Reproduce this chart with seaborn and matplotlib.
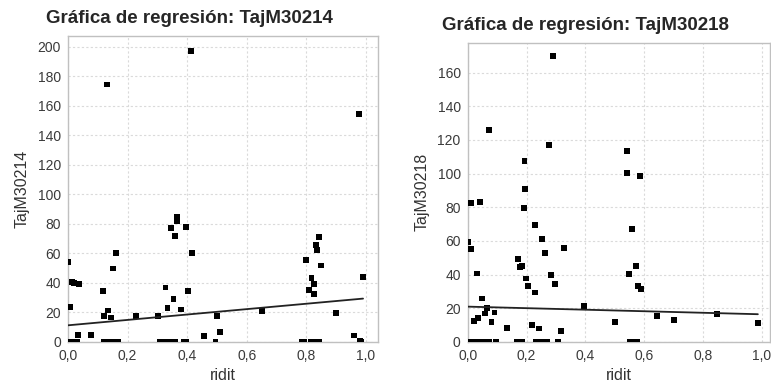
import matplotlib
matplotlib.use("Agg")
import matplotlib.pyplot as plt
import matplotlib.ticker as mticker
import seaborn as sns
import pandas as pd

# -----------------------------
# Data
# -----------------------------
left_x = [0.000, 0.007, 0.012, 0.020, 0.038, 0.033, 0.078, 0.116, 0.120, 0.135,
          0.143, 0.150, 0.161, 0.130, 0.229, 0.303, 0.327, 0.334, 0.347, 0.354,
          0.358, 0.367, 0.367, 0.378, 0.395, 0.404, 0.415, 0.413, 0.456, 0.499,
          0.510, 0.650, 0.799, 0.808, 0.817, 0.826, 0.824, 0.831, 0.836, 0.843,
          0.849, 0.899, 0.960, 0.980, 0.989, 0.977]
left_y = [54, 24, 40.5, 40, 39.5, 4.7, 4.7, 34.4, 17.6, 21.3,
          16.6, 49.8, 60.1, 174.5, 17.8, 17.8, 36.9, 23, 77.5, 29,
          71.9, 82, 85, 22, 77.7, 34.4, 60, 197, 4, 17.6,
          6.6, 21, 55.6, 35.5, 43.4, 39, 32.5, 65.6, 62.2, 71.2,
          51.8, 19.7, 4.4, 1, 44, 154.6]
left_zero_x = [0.003, 0.012, 0.021, 0.030, 0.120, 0.130, 0.150, 0.160, 0.167,
               0.310, 0.320, 0.330, 0.340, 0.350, 0.360, 0.388, 0.396, 0.495,
               0.786, 0.793, 0.816, 0.825, 0.834, 0.843, 0.984]
left_fit_x = [0.0, 0.99]
left_fit_y = [11.3, 29.4]

right_x = [0.000, 0.010, 0.010, 0.043, 0.032, 0.020, 0.035, 0.050, 0.059, 0.067,
           0.081, 0.091, 0.134, 0.171, 0.178, 0.185, 0.190, 0.198, 0.206, 0.218,
           0.229, 0.230, 0.241, 0.254, 0.262, 0.282, 0.297, 0.316, 0.326, 0.395,
           0.502, 0.547, 0.557, 0.571, 0.580, 0.590, 0.642, 0.701, 0.847, 0.986,
           0.291, 0.072, 0.275, 0.193, 0.195, 0.540, 0.542, 0.585]
right_y = [59.5, 55.5, 82.3, 83, 40.7, 12.7, 14, 25.8, 16.9, 20.1,
           11.7, 17.5, 8.2, 49.2, 44.6, 45.2, 79.5, 37.7, 33.3, 9.9,
           29.4, 69.6, 8, 61.3, 52.6, 39.9, 34.3, 6.5, 55.9, 21.4,
           12.1, 40.3, 66.9, 45.2, 33, 31.4, 15.5, 12.9, 16.5, 11.3,
           169.8, 126, 117.2, 107.3, 91, 113.6, 100.2, 98.6]
right_zero_x = [0.000, 0.010, 0.030, 0.040, 0.050, 0.060, 0.072, 0.096,
                0.169, 0.178, 0.186, 0.232, 0.242, 0.252, 0.262, 0.271,
                0.307, 0.551, 0.560, 0.569, 0.577]
right_fit_x = [0.0, 0.986]
right_fit_y = [21.0, 16.5]

sns.set_style("white")
plt.rcParams["font.family"] = ["Liberation Sans", "DejaVu Sans"]


def draw_panel(ax, xs, ys, zeros, fit_x, fit_y, name, xmax, ymax, ystep):

    pts = pd.DataFrame({
        "ridit": list(xs) + list(zeros),
        name: list(ys) + [0] * len(zeros),
    })

    sns.scatterplot(
        data=pts,
        x="ridit",
        y=name,
        marker="s",
        s=18,
        color="black",
        edgecolor="none",
        ax=ax,
        zorder=3
    )

    sns.lineplot(
        x=fit_x,
        y=fit_y,
        color="#222222",
        linewidth=1.3,
        ax=ax,
        zorder=4
    )

    ax.set_xlim(0, xmax)
    ax.set_ylim(0, ymax)
    ax.xaxis.set_major_locator(mticker.MultipleLocator(0.2))
    ax.yaxis.set_major_locator(mticker.MultipleLocator(ystep))
    ax.xaxis.set_major_formatter(
        mticker.FuncFormatter(lambda v, p: f"{v:.1f}".replace(".", ","))
    )

    ax.grid(True, color="#dadada", linestyle=(0, (2, 2)), linewidth=0.8)
    ax.set_axisbelow(True)

    for sp in ax.spines.values():
        sp.set_color("#c0c0c0")
        sp.set_linewidth(1.0)

    ax.tick_params(
        direction="out",
        length=3,
        color="#a0a0a0",
        labelsize=10,
        labelcolor="#3a3a3a",
        pad=2
    )

    ax.set_xlabel("ridit", fontsize=11.5, color="#333333", labelpad=4)
    ax.set_ylabel(name, fontsize=11.5, color="#333333", labelpad=6)


fig = plt.figure(figsize=(7.71, 3.88), dpi=100)

ax1 = fig.add_axes([0.0882, 0.1186, 0.402, 0.7884])
ax2 = fig.add_axes([0.6066, 0.1186, 0.3920, 0.7714])

# -----------------------------
# TajM30214
# -----------------------------
draw_panel(ax1, left_x, left_y, left_zero_x, left_fit_x, left_fit_y,
           "TajM30214", 1.04, 207.3, 20)

# -----------------------------
# TajM30218
# -----------------------------
draw_panel(ax2, right_x, right_y, right_zero_x, right_fit_x, right_fit_y,
           "TajM30218", 1.027, 177.8, 20)

fig.text(0.246, 0.953, "Gráfica de regresión: TajM30214",
         ha="center", va="center", fontsize=13.5, fontweight="bold")
fig.text(0.760, 0.934, "Gráfica de regresión: TajM30218",
         ha="center", va="center", fontsize=13.5, fontweight="bold")

plt.savefig("out.png", dpi=100)

plt.close()
